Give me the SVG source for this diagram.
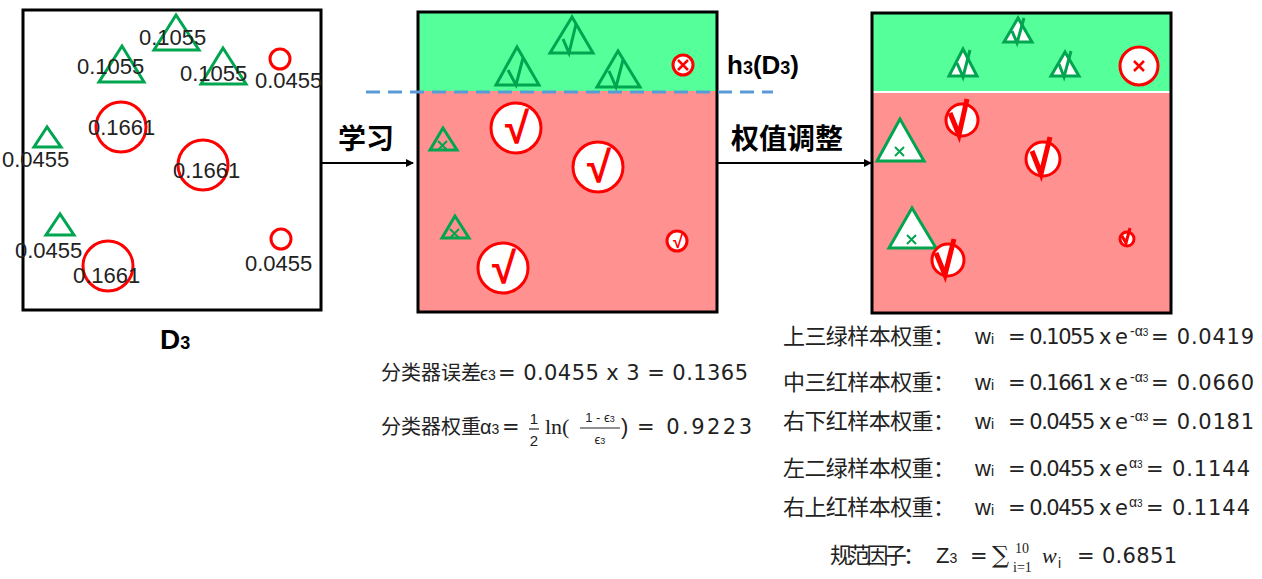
<svg xmlns="http://www.w3.org/2000/svg" width="1262" height="579" viewBox="0 0 1262 579">
<defs>
<marker id="ah" markerWidth="8" markerHeight="8" refX="7" refY="4" orient="auto" markerUnits="userSpaceOnUse"><path d="M0,0 L8,4 L0,8 z" fill="#000"/></marker>
</defs>
<style>
text{font-family:"Liberation Sans","Noto Sans CJK SC",sans-serif;fill:#222}
.n{font-size:22px}
.b{font-weight:bold;fill:#000}
.tri{fill:none;stroke:#00A550;stroke-width:3}
.triw{fill:#fff;stroke:#00A550;stroke-width:3}
.cir{fill:none;stroke:#f00;stroke-width:3}
.cirw{fill:#fff;stroke:#f00;stroke-width:3}
.gck{fill:none;stroke:#00A550;stroke-width:3}
.box{fill:none;stroke:#000;stroke-width:3}
.f{font-size:22px}
.d{font-family:"DejaVu Sans",sans-serif;font-size:21px}
.s{font-size:14px}
.rc{font-weight:bold;fill:#f00;text-anchor:middle}
</style>
<rect width="1262" height="579" fill="#fff"/>

<g id="D3">
<rect x="23" y="10" width="298" height="300" fill="#fff" class="box"/>
<polygon class="tri" points="176,15 154,50 199,50"/>
<polygon class="tri" points="122,46 99,82 144,82"/>
<polygon class="tri" points="223,48 201,84 246,84"/>
<polygon class="tri" points="47,127 34,147 61,147"/>
<polygon class="tri" points="60,214 46,235 74,235"/>
<circle class="cir" cx="280" cy="59" r="10"/>
<circle class="cir" cx="121" cy="127" r="25"/>
<circle class="cir" cx="203" cy="165" r="25"/>
<circle class="cir" cx="108" cy="266" r="25"/>
<circle class="cir" cx="281" cy="239" r="10"/>
<text class="n" x="139" y="45">0.1055</text>
<text class="n" x="77" y="74">0.1055</text>
<text class="n" x="180" y="81">0.1055</text>
<text class="n" x="255" y="88">0.0455</text>
<text class="n" x="88" y="135">0.1661</text>
<text class="n" x="173" y="178">0.1661</text>
<text class="n" x="2" y="167">0.0455</text>
<text class="n" x="15" y="258">0.0455</text>
<text class="n" x="73" y="283">0.1661</text>
<text class="n" x="245" y="271">0.0455</text>
<text class="b" x="160" y="349" font-size="28">D<tspan font-size="18">3</tspan></text>
</g>

<g id="h3">
<rect x="418" y="12" width="299" height="79" fill="#55FF9A"/>
<rect x="418" y="91" width="299" height="221" fill="#FF9191"/>
<rect x="418" y="12" width="299" height="300" class="box"/>
<polygon class="tri" points="572,17 550,53 593,53"/>
<path class="gck" d="M563,39 l6,14 l7,-29"/>
<polygon class="tri" points="517,47 496,85 539,85"/>
<path class="gck" d="M508,70 l8,15 l7,-27"/>
<polygon class="tri" points="618,51 597,87 640,87"/>
<path class="gck" d="M609,71 l7,16 l7,-27"/>
<circle class="cirw" cx="683" cy="65" r="10"/>
<path d="M678,60 l10,10 M688,60 l-10,10" stroke="#f00" stroke-width="2.5"/>
<polygon class="tri" points="443,128 430,150 457,150"/>
<path d="M438,141 l9,9 M447,141 l-9,9" stroke="#00A550" stroke-width="2"/>
<polygon class="tri" points="455,216 442,238 469,238"/>
<path d="M450,229 l9,9 M459,229 l-9,9" stroke="#00A550" stroke-width="2"/>
<circle class="cirw" cx="516" cy="128" r="25"/>
<circle class="cirw" cx="598" cy="167" r="25"/>
<circle class="cirw" cx="503" cy="268" r="25"/>
<circle class="cirw" cx="677" cy="241" r="10"/>
<text class="rc" x="517" y="143" font-size="44">√</text>
<text class="rc" x="599" y="182" font-size="44">√</text>
<text class="rc" x="504" y="283" font-size="44">√</text>
<text class="rc" x="678" y="248" font-size="18">√</text>
<text class="b" x="727" y="74" font-size="26">h<tspan font-size="18">3</tspan>(D<tspan font-size="18">3</tspan>)</text>
</g>

<g id="h3adj">
<rect x="872" y="13" width="299" height="78" fill="#55FF9A"/>
<rect x="872" y="93" width="299" height="220" fill="#FF9191"/>
<line x1="872" y1="92" x2="1171" y2="92" stroke="#fff" stroke-width="2"/>
<rect x="872" y="13" width="299" height="300" class="box"/>
<polygon class="triw" points="1018,18 1004,42 1032,42"/>
<path class="gck" d="M1012,31 l5,12 l7,-25"/>
<polygon class="triw" points="963,49 949,76 977,76"/>
<path class="gck" d="M957,63 l6,14 l7,-27"/>
<polygon class="triw" points="1065,52 1051,76 1079,76"/>
<path class="gck" d="M1059,64 l5,13 l7,-26"/>
<circle class="cirw" cx="1139" cy="66" r="19"/>
<path d="M1134,61 l10,10 M1144,61 l-10,10" stroke="#f00" stroke-width="2.5"/>
<polygon class="triw" points="900,119 877,161 924,161"/>
<path d="M895,147 l9,9 M904,147 l-9,9" stroke="#00A550" stroke-width="2"/>
<polygon class="triw" points="912,208 889,248 936,248"/>
<path d="M907,235 l9,9 M916,235 l-9,9" stroke="#00A550" stroke-width="2"/>
<circle class="cirw" cx="962" cy="120" r="16"/>
<circle class="cirw" cx="1043" cy="159" r="17"/>
<circle class="cirw" cx="948" cy="260" r="16"/>
<circle class="cirw" cx="1127" cy="239" r="7"/>
<path d="M950,113 l9,22 l8,-36" stroke="#f00" stroke-width="5" fill="none"/>
<path d="M1032,151 l9,23 l9,-37" stroke="#f00" stroke-width="5" fill="none"/>
<path d="M936,253 l9,22 l9,-36" stroke="#f00" stroke-width="5" fill="none"/>
<path d="M1122,236 l4,7 l4,-15" stroke="#f00" stroke-width="3" fill="none"/>
</g>

<g id="connectors">
<line x1="322" y1="163" x2="413" y2="163" stroke="#000" stroke-width="2" marker-end="url(#ah)"/>
<line x1="717" y1="163" x2="871" y2="163" stroke="#000" stroke-width="2" marker-end="url(#ah)"/>
<line x1="366" y1="92" x2="773" y2="92" stroke="#5B9BD5" stroke-width="3" stroke-dasharray="14,8"/>
<text class="b" x="338" y="149" font-size="28">学习</text>
<text class="b" x="731" y="149" font-size="28">权值调整</text>
</g>

<g id="formulas">
<text x="381" y="380" font-size="20">分类器误差</text>
<text x="480" y="380" font-size="18">ϵ<tspan class="s">3</tspan></text>
<text class="d" x="498" y="380" textLength="250" lengthAdjust="spacing">= 0.0455 x 3 = 0.1365</text>
<text x="381" y="434" font-size="20">分类器权重</text>
<text x="480" y="434" font-size="20">α<tspan class="s">3</tspan></text>
<text class="d" x="502" y="434">=</text>
<text x="534" y="424" font-size="15" text-anchor="middle">1</text>
<line x1="529" y1="429" x2="539" y2="429" stroke="#222" stroke-width="1.2"/>
<text x="534" y="446" font-size="15" text-anchor="middle">2</text>
<text x="545" y="434" font-size="22" style="font-family:'Liberation Serif',serif">ln(</text>
<text x="600" y="422" font-size="13" text-anchor="middle">1 - ϵ<tspan font-size="9">3</tspan></text>
<line x1="580" y1="428" x2="620" y2="428" stroke="#222" stroke-width="1"/>
<text x="600" y="444" font-size="13" text-anchor="middle">ϵ<tspan font-size="9">3</tspan></text>
<text x="621" y="434" font-size="22">)</text>
<text class="d" x="637" y="434" textLength="115" lengthAdjust="spacing">= 0.9223</text>

<g class="f">
<text x="783" y="344" textLength="172" lengthAdjust="spacing">上三绿样本权重：</text>
<text x="975" y="344">w<tspan class="s">i</tspan></text>
<text class="d" x="1008" y="344" textLength="120" lengthAdjust="spacing">= 0.1055 x e</text>
<text x="1130" y="336" class="s">-α<tspan font-size="10">3</tspan></text>
<text class="d" x="1151" y="344" textLength="103" lengthAdjust="spacing">= 0.0419</text>

<text x="783" y="390" textLength="172" lengthAdjust="spacing">中三红样本权重：</text>
<text x="975" y="390">w<tspan class="s">i</tspan></text>
<text class="d" x="1008" y="390" textLength="120" lengthAdjust="spacing">= 0.1661 x e</text>
<text x="1130" y="382" class="s">-α<tspan font-size="10">3</tspan></text>
<text class="d" x="1151" y="390" textLength="103" lengthAdjust="spacing">= 0.0660</text>

<text x="783" y="429" textLength="172" lengthAdjust="spacing">右下红样本权重：</text>
<text x="975" y="429">w<tspan class="s">i</tspan></text>
<text class="d" x="1008" y="429" textLength="120" lengthAdjust="spacing">= 0.0455 x e</text>
<text x="1130" y="421" class="s">-α<tspan font-size="10">3</tspan></text>
<text class="d" x="1151" y="429" textLength="103" lengthAdjust="spacing">= 0.0181</text>

<text x="783" y="476" textLength="172" lengthAdjust="spacing">左二绿样本权重：</text>
<text x="975" y="476">w<tspan class="s">i</tspan></text>
<text class="d" x="1008" y="476" textLength="120" lengthAdjust="spacing">= 0.0455 x e</text>
<text x="1129" y="468" class="s">α<tspan font-size="10">3</tspan></text>
<text class="d" x="1146" y="476" textLength="104" lengthAdjust="spacing">= 0.1144</text>

<text x="783" y="515" textLength="172" lengthAdjust="spacing">右上红样本权重：</text>
<text x="975" y="515">w<tspan class="s">i</tspan></text>
<text class="d" x="1008" y="515" textLength="120" lengthAdjust="spacing">= 0.0455 x e</text>
<text x="1129" y="507" class="s">α<tspan font-size="10">3</tspan></text>
<text class="d" x="1146" y="515" textLength="104" lengthAdjust="spacing">= 0.1144</text>

<text x="830" y="563" textLength="95" lengthAdjust="spacing">规范因子：</text>
<text x="936" y="563">Z<tspan class="s">3</tspan></text>
<text class="d" x="970" y="563">=</text>
<text x="992" y="563" font-size="24" style="font-family:'DejaVu Serif',serif">∑</text>
<text x="1015" y="553" class="s" style="font-family:'Liberation Serif',serif">10</text>
<text x="1013" y="572" class="s" style="font-family:'Liberation Serif',serif">i=1</text>
<text x="1042" y="563" font-style="italic" style="font-family:'Liberation Serif',serif">w</text>
<text x="1058" y="568" class="s">i</text>
<text class="d" x="1077" y="563" textLength="100" lengthAdjust="spacing">= 0.6851</text>
</g>
</g>
</svg>
